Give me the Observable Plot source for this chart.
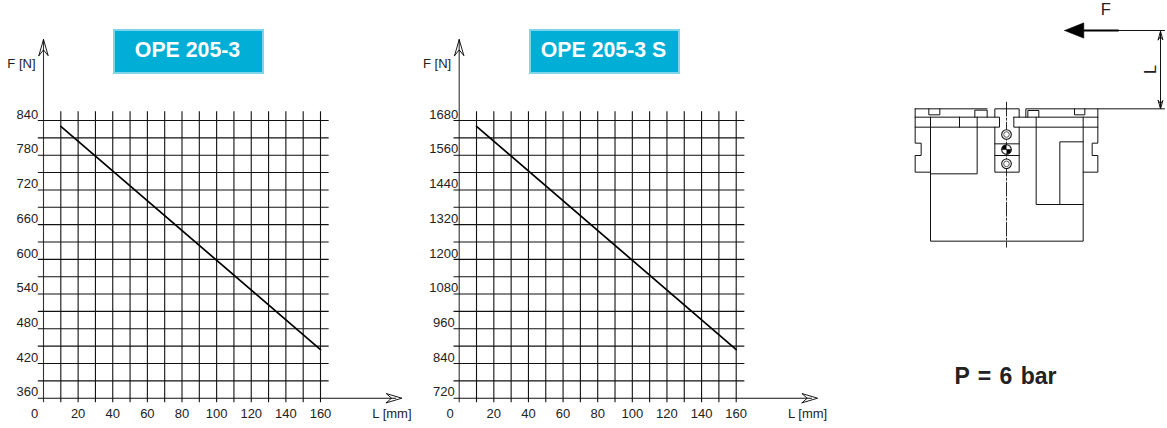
<!DOCTYPE html>
<html><head><meta charset="utf-8">
<script src="https://cdn.jsdelivr.net/npm/d3@7"></script>
<script src="https://cdn.jsdelivr.net/npm/@observablehq/plot@0.6"></script>
<style>
html,body{margin:0;padding:0;background:#fff;width:1167px;height:428px;overflow:hidden}
#page{position:relative;width:1167px;height:428px;font-family:"Liberation Sans",Arial,sans-serif}
#page>div.panel{position:absolute;top:0}
.badge{position:absolute;box-sizing:border-box;top:29px;height:45px;width:151px;padding-right:2px;background:#00aed6;border:2px solid #7fd4ea;color:#fff;font:bold 21.3px "Liberation Sans",Arial,sans-serif;line-height:39px;text-align:center}
.sch{word-spacing:2px}
svg{display:block;background:transparent}
</style></head><body><div id="page"></div>
<script>
// ---- chart data ----
const lengths = [10,160];
const forceStd = [830,444];
const forceS = [1660,888];
const xGrid = [0,10,20,30,40,50,60,70,80,90,100,110,120,130,140,150,160];
const xLabels = [0,20,40,60,80,100,120,140,160];
const yLabelsStd = [360,420,480,540,600,660,720,780,840];
const yLabelsS = [720,840,960,1080,1200,1320,1440,1560,1680];
const yGridStd = [360,390,420,450,480,510,540,570,600,630,660,690,720,750,780,810,840];
const yGridS = [720,780,840,900,960,1020,1080,1140,1200,1260,1320,1380,1440,1500,1560,1620,1680];

// ---- schematic (drawing units) ----
const drawing = [
 [[74,325],[290,325]],
 [[74,325],[74,428],[92,428],[92,465],[74,465],[74,515],[120,515]],
 [[74,350],[327,350],[327,380],[74,380]],
 [[120,350],[120,722],[578,722],[578,350]],
 [[207,350],[207,380]],
 [[260,350],[260,520],[120,520]],
 [[115,325],[115,343],[148,343],[148,325]],
 [[253,350],[253,329],[290,329],[290,350]],
 [[313,350],[313,325],[386,325],[386,350]],
 [[313,380],[313,515],[386,515],[386,380]],
 [[313,430],[386,430]],
 [[313,465],[386,465]],
 [[370,350],[622,350]],
 [[370,350],[370,380],[622,380]],
 [[406,350],[406,325],[822,325]],
 [[622,325],[622,428],[605,428],[605,465],[622,465],[622,515],[578,515]],
 [[437,350],[437,612],[578,612]],
 [[508,612],[508,424],[578,424]],
 [[412,350],[412,330],[445,330],[445,350]],
 [[552,325],[552,343],[583,343],[583,325]],
 [[683,90],[822,90]],
 [[810,95],[810,322]],
 [[803,118],[810,92],[817,118],[810,108],[803,118]],
 [[803,300],[810,325],[817,300],[810,310],[803,300]]
];
const centerLine = [[348,305],[348,740]];
const heavyLine = [[580,90],[683,90]];
const forceHead = [[522,90],[580,67],[580,113]];
const bolts = [[348,402],[348,447],[348,490]];
const boltQuarterA = [[348,447],[334,447],[338,437],[348,433]];
const boltQuarterB = [[348,447],[362,447],[358,457],[348,461]];

const fontFamily = '"Liberation Sans",Arial,sans-serif';
const page = document.getElementById("page");
const ink = "#222";

function addPanel(left, x0, x160, yLabels, yGrid, force){
  const yMin = yGrid[0], yMax = yGrid[yGrid.length-1], k = (yMax-yMin)/480;
  const pts = lengths.map((l,i)=>({l, f:force[i]}));
  const yV = [[-2.7,952],[0,980],[2.7,952],[0,962],[-2.7,952]].map(([a,b])=>[a, yMin + (b-360)*k]);
  const xH = [[198,352],[207,360],[198,368],[201,360],[198,352]].map(([a,b])=>[a, yMin + (b-360)*k]);
  const wide = yLabels.filter(v=>v>=1000), narrow = yLabels.filter(v=>v<1000);
  const narrowDx = wide.length ? -4.5 : -5.3;
  const plot = Plot.plot({
    width:420,height:428,margin:0,
    style:{background:"transparent",fontFamily,color:ink},
    x:{type:"linear",domain:[0,160],range:[x0,x160],axis:null},
    y:{type:"linear",domain:[yMin,yMax],range:[397.7,120],axis:null},
    marks:[
      Plot.ruleX(xGrid.slice(1),{x:d=>d,y1:yMin-8*k,y2:yMin+495*k,stroke:"#111",strokeWidth:1.1}),
      Plot.ruleX([0],{x:d=>d,y1:yMin-8*k,y2:yMin+620*k,stroke:"#333",strokeWidth:1.1}),
      Plot.ruleY(yGrid.slice(1),{y:d=>d,x1:-3,x2:165,stroke:"#111",strokeWidth:1.1}),
      Plot.ruleY([yMin],{y:d=>d,x1:-3,x2:204,stroke:"#111",strokeWidth:1.1}),
      Plot.line(yV,{x:d=>d[0],y:d=>d[1],stroke:"#000",strokeWidth:0.9}),
      Plot.line(xH,{x:d=>d[0],y:d=>d[1],stroke:"#000",strokeWidth:0.9}),
      Plot.line(pts,{x:"l",y:"f",stroke:"#000",strokeWidth:1.7}),
      Plot.text(narrow,{x:0,y:d=>d,text:d=>String(d),textAnchor:"end",dx:narrowDx,dy:-6,fill:ink,fontSize:13}),
      Plot.text(wide,{x:0,y:d=>d,text:d=>String(d),textAnchor:"end",dx:-1,dy:-6,fill:ink,fontSize:13}),
      Plot.text(xLabels.slice(1),{x:d=>d,y:yMin,text:d=>String(d),dy:15.5,fill:ink,fontSize:13}),
      Plot.text([0],{x:d=>d,y:yMin,text:d=>String(d),dx:-9,dy:15.5,fill:ink,fontSize:13}),
      Plot.text(["F [N]"],{x:0,y:yMax,text:d=>d,textAnchor:"end",dx:-8,dy:-57,fill:ink,fontSize:13}),
      Plot.text(["L [mm]"],{x:212,y:yMin,text:d=>d,textAnchor:"end",dx:1,dy:15.5,fill:ink,fontSize:13})
    ]
  });
  const d = document.createElement("div");
  d.className="panel"; d.style.left=left+"px"; d.appendChild(plot); page.appendChild(d);
}
addPanel(0,43,320,yLabelsStd,yGridStd,forceStd);
addPanel(420,38.7,315.7,yLabelsS,yGridS,forceS);

const xy = {x:d=>d[0],y:d=>d[1]};
const sch = Plot.plot({
  width:277,height:428,margin:0,
  style:{background:"transparent",fontFamily,color:ink},
  x:{type:"linear",domain:[0,831],range:[0,277],axis:null},
  y:{type:"linear",domain:[0,1284],range:[0,428],axis:null},
  marks:[
    ...drawing.map(seg=>Plot.line(seg,{...xy,stroke:"#111",strokeWidth:1})),
    Plot.line(centerLine,{...xy,stroke:"#111",strokeWidth:0.9,strokeDasharray:"14,2,2,2"}),
    Plot.line(heavyLine,{...xy,stroke:"#000",strokeWidth:1.8}),
    Plot.line(forceHead.concat([forceHead[0]]),{...xy,stroke:"#000",fill:"#000",strokeWidth:0.5}),
    Plot.dot(bolts,{...xy,r:4.8,stroke:"#111",fill:"#fff",strokeWidth:1.1}),
    Plot.dot(bolts.filter((_,i)=>i!==1),{...xy,r:2.8,stroke:"#444",strokeWidth:0.9}),
    Plot.line(boltQuarterA,{...xy,fill:"#000",stroke:"#000",strokeWidth:0.5}),
    Plot.line(boltQuarterB,{...xy,fill:"#000",stroke:"#000",strokeWidth:0.5}),
    Plot.text(["F"],{x:646,y:28,text:d=>d,fill:ink,fontSize:16.5}),
    Plot.text(["L"],{x:780,y:207,text:d=>d,rotate:-90,fill:ink,fontSize:16.5}),
    Plot.text(["P = 6 bar"],{x:345,y:1128,text:d=>d,fill:ink,fontSize:23,fontWeight:"bold"})
  ]
});
const sd = document.createElement("div");
sd.className="panel sch"; sd.style.left="890px"; sd.appendChild(sch); page.appendChild(sd);

[["OPE 205-3",113],["OPE 205-3 S",529]].forEach(([t,l])=>{
  const b=document.createElement("div");b.className="badge";b.textContent=t;b.style.left=l+"px";page.appendChild(b);
});
</script></body></html>
